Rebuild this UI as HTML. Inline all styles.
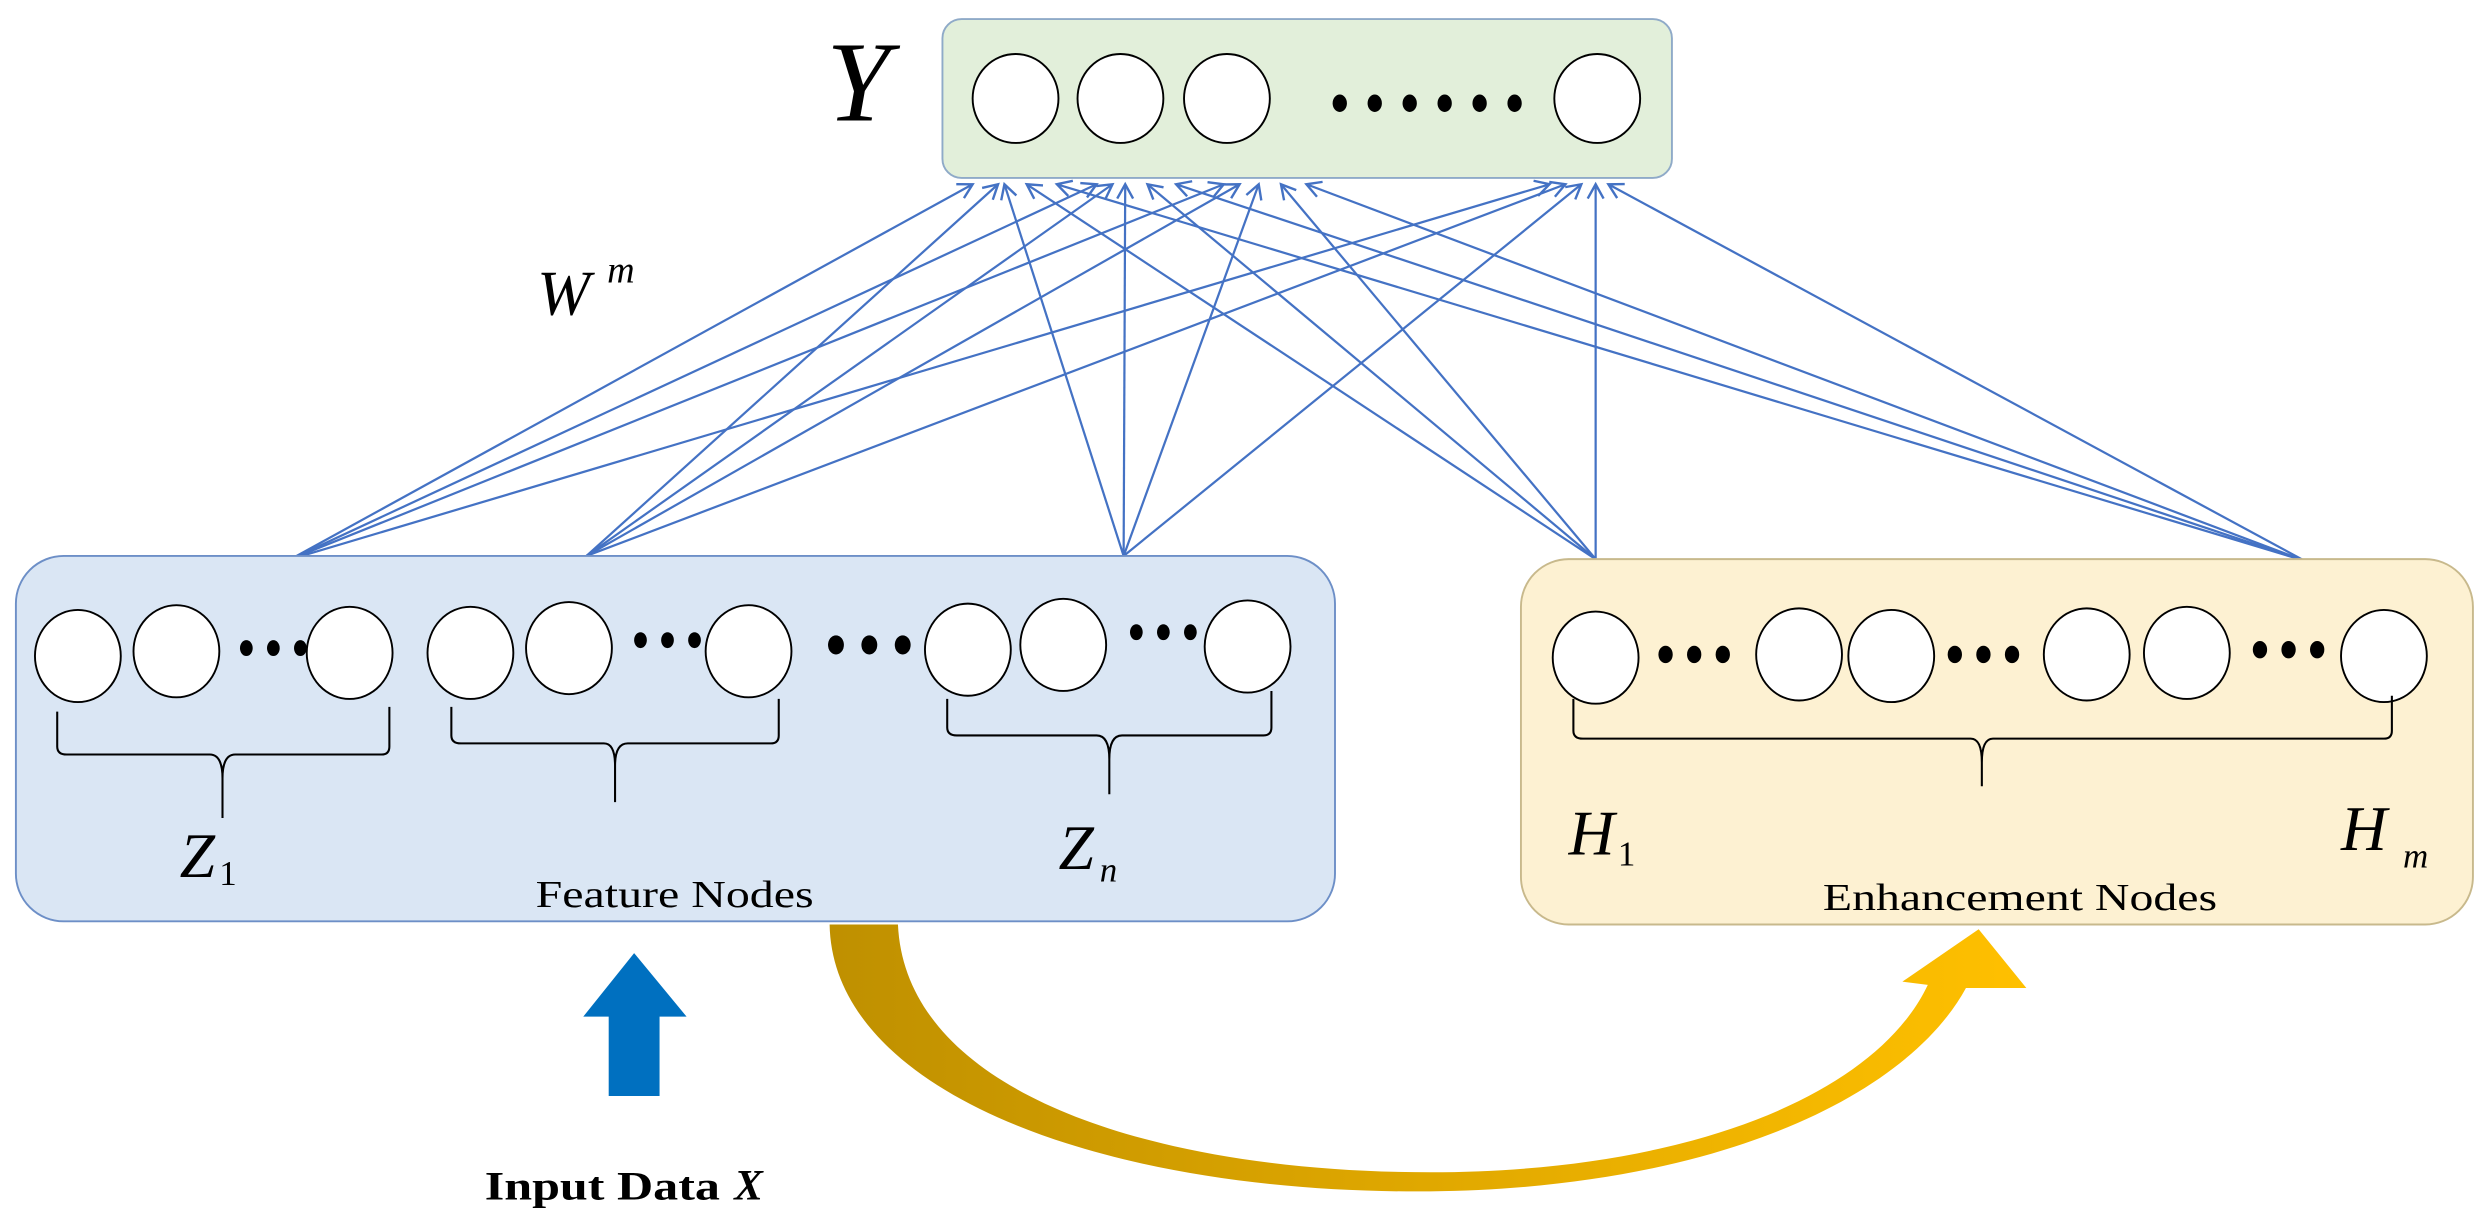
<!DOCTYPE html>
<html><head><meta charset="utf-8"><style>
html,body{margin:0;padding:0;background:#fff;}
svg{display:block;}
text{font-family:"Liberation Serif",serif;}
</style></head><body>
<svg width="2492" height="1212" viewBox="0 0 1568 763" preserveAspectRatio="none" xmlns="http://www.w3.org/2000/svg">
<defs>
<marker id="ah" markerWidth="12" markerHeight="12" refX="10" refY="6" orient="auto" markerUnits="userSpaceOnUse">
<path d="M1,1 L10,6 L1,11" fill="none" stroke="#4472c4" stroke-width="1.5"/>
</marker>
<linearGradient id="gold" x1="0" y1="0" x2="1" y2="0">
<stop offset="0" stop-color="#bf9000"/><stop offset="0.5" stop-color="#e0a800"/><stop offset="1" stop-color="#ffc000"/>
</linearGradient>
</defs>

<rect x="593" y="12" width="459" height="100" rx="12" fill="#e2efda" stroke="#8faac8" stroke-width="1.2"/>
<text x="520" y="76" font-size="72" font-style="italic">Y</text>
<g fill="#fff" stroke="#000" stroke-width="1.2">
<ellipse cx="639" cy="62" rx="27" ry="28"/><ellipse cx="705" cy="62" rx="27" ry="28"/>
<ellipse cx="772" cy="62" rx="27" ry="28"/><ellipse cx="1005" cy="62" rx="27" ry="28"/>
</g>
<g fill="#000">
<ellipse cx="843" cy="65" rx="4.5" ry="5.5"/><ellipse cx="865" cy="65" rx="4.5" ry="5.5"/>
<ellipse cx="887" cy="65" rx="4.5" ry="5.5"/><ellipse cx="909" cy="65" rx="4.5" ry="5.5"/>
<ellipse cx="931" cy="65" rx="4.5" ry="5.5"/><ellipse cx="953" cy="65" rx="4.5" ry="5.5"/>
</g>

<g stroke="#4472c4" stroke-width="1.4" fill="none" marker-end="url(#ah)">
<line x1="183" y1="352" x2="612" y2="116"/><line x1="183" y1="352" x2="690" y2="116"/>
<line x1="183" y1="352" x2="770" y2="116"/><line x1="183" y1="352" x2="975" y2="116"/>
<line x1="369" y1="350" x2="628" y2="116"/><line x1="369" y1="350" x2="700" y2="116"/>
<line x1="369" y1="350" x2="780" y2="116"/><line x1="369" y1="350" x2="985" y2="116"/>
<line x1="707" y1="350" x2="632" y2="116"/><line x1="707" y1="350" x2="708" y2="116"/>
<line x1="707" y1="350" x2="792" y2="116"/><line x1="707" y1="350" x2="995" y2="116"/>
<line x1="1004" y1="352" x2="646" y2="116"/><line x1="1004" y1="352" x2="722" y2="116"/>
<line x1="1004" y1="352" x2="806" y2="116"/><line x1="1004" y1="352" x2="1004" y2="116"/>
<line x1="1450" y1="353" x2="665" y2="116"/><line x1="1450" y1="353" x2="740" y2="116"/>
<line x1="1450" y1="353" x2="822" y2="116"/><line x1="1450" y1="353" x2="1012" y2="116"/>
</g>
<text x="338" y="198" font-size="40" font-style="italic">W</text>
<text x="382" y="178" font-size="24" font-style="italic">m</text>

<rect x="10" y="350" width="830" height="230" rx="30" fill="#dae6f4" stroke="#6d8fc7" stroke-width="1.2"/>
<g fill="#fff" stroke="#000" stroke-width="1.2">
<ellipse cx="49" cy="413" rx="27" ry="29"/><ellipse cx="111" cy="410" rx="27" ry="29"/><ellipse cx="220" cy="411" rx="27" ry="29"/>
<ellipse cx="296" cy="411" rx="27" ry="29"/><ellipse cx="358" cy="408" rx="27" ry="29"/><ellipse cx="471" cy="410" rx="27" ry="29"/>
<ellipse cx="609" cy="409" rx="27" ry="29"/><ellipse cx="669" cy="406" rx="27" ry="29"/><ellipse cx="785" cy="407" rx="27" ry="29"/>
</g>
<g fill="#000">
<ellipse cx="155" cy="408" rx="4" ry="5"/><ellipse cx="172" cy="408" rx="4" ry="5"/><ellipse cx="189" cy="408" rx="4" ry="5"/>
<ellipse cx="403" cy="403" rx="4" ry="5"/><ellipse cx="420" cy="403" rx="4" ry="5"/><ellipse cx="437" cy="403" rx="4" ry="5"/>
<ellipse cx="526" cy="406" rx="5" ry="6"/><ellipse cx="547" cy="406" rx="5" ry="6"/><ellipse cx="568" cy="406" rx="5" ry="6"/>
<ellipse cx="715" cy="398" rx="4" ry="5"/><ellipse cx="732" cy="398" rx="4" ry="5"/><ellipse cx="749" cy="398" rx="4" ry="5"/>
</g>
<g fill="none" stroke="#000" stroke-width="1.3">
<path d="M36,448 V470 Q36,475 42,475 H132 Q140,475 140,490 V515 M140,490 Q140,475 148,475 H240 Q245,475 245,470 V445"/>
<path d="M284,445 V463 Q284,468 290,468 H380 Q387,468 387,482 V505 M387,482 Q387,468 395,468 H485 Q490,468 490,463 V440"/>
<path d="M596,440 V458 Q596,463 602,463 H690 Q698,463 698,478 V500 M698,478 Q698,463 706,463 H795 Q800,463 800,458 V435"/>
</g>
<text x="113" y="552" font-size="40" font-style="italic">Z</text>
<text x="138" y="557" font-size="22">1</text>
<text x="666" y="547" font-size="40" font-style="italic">Z</text>
<text x="692" y="555" font-size="22" font-style="italic">n</text>
<text x="337" y="571" font-size="24" textLength="175" lengthAdjust="spacingAndGlyphs">Feature Nodes</text>

<rect x="957" y="352" width="599" height="230" rx="30" fill="#fdf1d2" stroke="#c8b98c" stroke-width="1.2"/>
<g fill="#fff" stroke="#000" stroke-width="1.2">
<ellipse cx="1004" cy="414" rx="27" ry="29"/><ellipse cx="1132" cy="412" rx="27" ry="29"/><ellipse cx="1190" cy="413" rx="27" ry="29"/>
<ellipse cx="1313" cy="412" rx="27" ry="29"/><ellipse cx="1376" cy="411" rx="27" ry="29"/><ellipse cx="1500" cy="413" rx="27" ry="29"/>
</g>
<g fill="#000">
<ellipse cx="1048" cy="412" rx="4.5" ry="5.5"/><ellipse cx="1066" cy="412" rx="4.5" ry="5.5"/><ellipse cx="1084" cy="412" rx="4.5" ry="5.5"/>
<ellipse cx="1230" cy="412" rx="4.5" ry="5.5"/><ellipse cx="1248" cy="412" rx="4.5" ry="5.5"/><ellipse cx="1266" cy="412" rx="4.5" ry="5.5"/>
<ellipse cx="1422" cy="409" rx="4.5" ry="5.5"/><ellipse cx="1440" cy="409" rx="4.5" ry="5.5"/><ellipse cx="1458" cy="409" rx="4.5" ry="5.5"/>
</g>
<path d="M990,440 V460 Q990,465 996,465 H1240 Q1247,465 1247,480 V495 M1247,480 Q1247,465 1254,465 H1500 Q1505,465 1505,460 V438" fill="none" stroke="#000" stroke-width="1.3"/>
<text x="987" y="538" font-size="40" font-style="italic">H</text>
<text x="1018" y="545" font-size="22">1</text>
<text x="1473" y="535" font-size="40" font-style="italic">H</text>
<text x="1512" y="546" font-size="22" font-style="italic">m</text>
<text x="1147" y="573" font-size="24" textLength="248" lengthAdjust="spacingAndGlyphs">Enhancement Nodes</text>

<path d="M383,690 V640 H367 L399,600 L432,640 H415 V690 Z" fill="#0070c0"/>
<text x="305" y="755" font-size="25" font-weight="bold" textLength="148" lengthAdjust="spacingAndGlyphs">Input Data</text>
<text x="462" y="755" font-size="27" font-style="italic" font-weight="bold">X</text>

<path d="M522,582 C524,690 700,752 900,750 C1080,748 1200,690 1237,622 L1275,622 L1245,585 L1197,618 L1213,620 C1180,690 1060,738 900,738 C730,738 570,690 565,582 Z" fill="url(#gold)"/>
</svg>
</body></html>
